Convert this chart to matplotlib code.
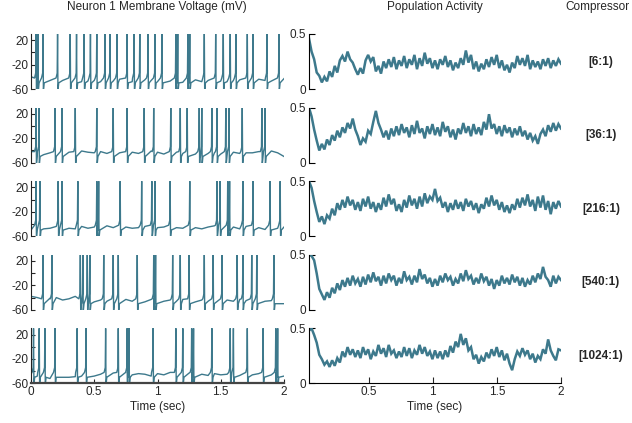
import numpy as np
import matplotlib
matplotlib.use('Agg')
import matplotlib.pyplot as plt

plt.rcParams['font.family'] = ['Liberation Sans', 'DejaVu Sans']

# colours / labels
trace_col = '#3d798c'
txt_col = '#262626'
ratios = ['[6:1)', '[36:1)', '[216:1)', '[540:1)', '[1024:1)']

# spike times (sec) of neuron 1, one list per compression row
spikes = [
    [0.04, 0.055, 0.095, 0.21, 0.31, 0.36, 0.42, 0.47, 0.52, 0.585, 0.625, 0.68, 0.76, 0.815,
     0.86, 0.925, 0.98, 1.035, 1.145, 1.16, 1.24, 1.255, 1.37, 1.46, 1.52, 1.575, 1.62, 1.71,
     1.755, 1.865, 1.96],
    [0.04, 0.063, 0.19, 0.245, 0.35, 0.52, 0.65, 0.76, 0.895, 0.97, 1.105, 1.18, 1.235, 1.33,
     1.35, 1.43, 1.47, 1.54, 1.565, 1.67, 1.825, 1.85],
    [0.04, 0.07, 0.215, 0.245, 0.37, 0.52, 0.535, 0.705, 0.875, 0.955, 0.98, 1.1, 1.255, 1.47,
     1.495, 1.555, 1.57, 1.675, 1.755, 1.89, 1.97],
    [0.095, 0.165, 0.39, 0.41, 0.445, 0.465, 0.575, 0.65, 0.69, 0.84, 0.97, 0.985, 1.12, 1.18,
     1.25, 1.37, 1.44, 1.51, 1.63, 1.675, 1.745, 1.785, 1.92],
    [0.02, 0.065, 0.11, 0.19, 0.365, 0.435, 0.59, 0.69, 0.76, 0.775, 0.965, 1.145, 1.2, 1.27,
     1.285, 1.43, 1.575, 1.6, 1.71, 1.835, 1.935, 1.95],
]

# sub-threshold voltage (mV), sampled every 0.05 s from 0 to 2 s
subthresh = [
    [-40, -44, -47, -46, -48, -46, -47, -45, -48, -47, -46, -48, -45, -47, -44, -46, -48, -47, -45, -46, -48,
     -44, -47, -46, -49, -47, -45, -48, -46, -44, -47, -48, -46, -45, -47, -48, -44, -46, -47, -45, -43],
    [-42, -46, -47, -44, -42, -40, -43, -45, -41, -43, -44, -42, -45, -43, -44, -42, -43, -45, -44, -41, -43,
     -46, -44, -43, -45, -44, -46, -43, -45, -44, -46, -42, -43, -45, -44, -44, -42, -43, -41, -44, -50],
    [-50, -47, -48, -47, -44, -46, -47, -48, -44, -47, -45, -48, -43, -46, -48, -45, -47, -46, -44, -47, -46,
     -45, -48, -46, -47, -44, -46, -48, -45, -43, -47, -46, -45, -48, -44, -47, -46, -49, -48, -47, -45],
    [-38, -40, -37, -41, -40, -44, -42, -38, -44, -45, -47, -44, -46, -41, -45, -43, -46, -44, -47, -43, -45,
     -46, -44, -46, -43, -45, -47, -44, -46, -45, -48, -44, -46, -43, -45, -47, -44, -46, -45, -50, -50],
    [-45, -48, -53, -52, -51, -50, -50, -49, -48, -47, -48, -45, -46, -43, -47, -45, -46, -44, -45, -48, -44,
     -46, -42, -41, -44, -43, -46, -45, -47, -44, -46, -45, -48, -47, -45, -46, -44, -47, -46, -50, -48],
]

# spike shape levels (mV)
v_thresh, v_peak, v_trough, v_ahp = -38, 30, -63, -50

# population activity, sampled every 0.02 s from 0.035 to 2 s
pop = [
    [0.46, 0.34, 0.27, 0.15, 0.12, 0.06, 0.11, 0.07, 0.16, 0.11,
     0.21, 0.15, 0.26, 0.30, 0.25, 0.34, 0.27, 0.24, 0.18, 0.13,
     0.19, 0.14, 0.26, 0.31, 0.25, 0.29, 0.16, 0.21, 0.14, 0.25,
     0.19, 0.27, 0.20, 0.29, 0.18, 0.26, 0.21, 0.30, 0.19, 0.27,
     0.22, 0.31, 0.18, 0.28, 0.21, 0.33, 0.23, 0.28, 0.19, 0.26,
     0.18, 0.27, 0.22, 0.30, 0.20, 0.26, 0.17, 0.24, 0.19, 0.28,
     0.22, 0.35, 0.24, 0.31, 0.18, 0.25, 0.16, 0.23, 0.18, 0.27,
     0.20, 0.29, 0.22, 0.31, 0.19, 0.26, 0.17, 0.22, 0.15, 0.24,
     0.19, 0.30, 0.22, 0.28, 0.21, 0.31, 0.18, 0.26, 0.20, 0.25,
     0.18, 0.27, 0.21, 0.28, 0.19, 0.26, 0.21, 0.27, 0.23],
    [0.50, 0.42, 0.30, 0.20, 0.11, 0.17, 0.12, 0.21, 0.16, 0.25,
     0.20, 0.29, 0.23, 0.32, 0.27, 0.36, 0.31, 0.40, 0.30, 0.24,
     0.16, 0.22, 0.19, 0.29, 0.26, 0.37, 0.47, 0.36, 0.30, 0.23,
     0.29, 0.21, 0.31, 0.24, 0.33, 0.25, 0.35, 0.27, 0.32, 0.23,
     0.34, 0.26, 0.38, 0.27, 0.31, 0.22, 0.33, 0.26, 0.35, 0.25,
     0.32, 0.24, 0.37, 0.28, 0.33, 0.23, 0.30, 0.21, 0.31, 0.26,
     0.36, 0.27, 0.33, 0.24, 0.35, 0.26, 0.32, 0.25, 0.37, 0.30,
     0.44, 0.31, 0.35, 0.26, 0.33, 0.24, 0.34, 0.27, 0.32, 0.23,
     0.31, 0.25, 0.33, 0.24, 0.29, 0.21, 0.27, 0.20, 0.24, 0.17,
     0.26, 0.30, 0.24, 0.34, 0.28, 0.36, 0.29, 0.35, 0.31],
    [0.50, 0.44, 0.32, 0.22, 0.13, 0.18, 0.11, 0.19, 0.16, 0.25,
     0.19, 0.30, 0.24, 0.33, 0.26, 0.36, 0.28, 0.33, 0.24, 0.31,
     0.23, 0.34, 0.27, 0.36, 0.25, 0.31, 0.22, 0.30, 0.24, 0.35,
     0.27, 0.38, 0.29, 0.34, 0.23, 0.29, 0.22, 0.33, 0.26, 0.37,
     0.28, 0.34, 0.25, 0.36, 0.27, 0.39, 0.30, 0.36, 0.33, 0.43,
     0.32, 0.35, 0.26, 0.31, 0.22, 0.30, 0.24, 0.33, 0.25, 0.31,
     0.23, 0.34, 0.27, 0.32, 0.24, 0.30, 0.21, 0.29, 0.25, 0.35,
     0.27, 0.37, 0.28, 0.33, 0.24, 0.31, 0.22, 0.28, 0.21, 0.29,
     0.24, 0.34, 0.26, 0.35, 0.28, 0.38, 0.27, 0.33, 0.23, 0.36,
     0.26, 0.37, 0.24, 0.32, 0.20, 0.31, 0.25, 0.32, 0.27],
    [0.50, 0.49, 0.45, 0.33, 0.19, 0.14, 0.09, 0.16, 0.11, 0.20,
     0.15, 0.24, 0.18, 0.27, 0.21, 0.29, 0.22, 0.31, 0.24, 0.28,
     0.21, 0.30, 0.23, 0.32, 0.25, 0.34, 0.26, 0.30, 0.22, 0.31,
     0.24, 0.33, 0.27, 0.31, 0.22, 0.29, 0.24, 0.35, 0.27, 0.30,
     0.23, 0.31, 0.25, 0.37, 0.28, 0.32, 0.24, 0.29, 0.21, 0.28,
     0.22, 0.31, 0.25, 0.33, 0.27, 0.30, 0.22, 0.28, 0.24, 0.33,
     0.26, 0.36, 0.28, 0.31, 0.23, 0.29, 0.24, 0.33, 0.26, 0.30,
     0.22, 0.28, 0.19, 0.27, 0.22, 0.31, 0.24, 0.29, 0.23, 0.32,
     0.25, 0.30, 0.22, 0.29, 0.21, 0.27, 0.23, 0.31, 0.25, 0.33,
     0.28, 0.39, 0.30, 0.27, 0.21, 0.31, 0.24, 0.30, 0.27],
    [0.48, 0.50, 0.44, 0.37, 0.26, 0.22, 0.17, 0.20, 0.15, 0.21,
     0.16, 0.23, 0.19, 0.29, 0.24, 0.33, 0.26, 0.31, 0.24, 0.30,
     0.23, 0.33, 0.26, 0.31, 0.22, 0.29, 0.25, 0.35, 0.27, 0.32,
     0.24, 0.35, 0.27, 0.30, 0.23, 0.29, 0.24, 0.33, 0.25, 0.32,
     0.23, 0.30, 0.26, 0.35, 0.27, 0.33, 0.25, 0.29, 0.22, 0.30,
     0.23, 0.29, 0.22, 0.30, 0.24, 0.34, 0.28, 0.38, 0.33, 0.45,
     0.35, 0.41, 0.30, 0.33, 0.22, 0.26, 0.18, 0.24, 0.20, 0.28,
     0.23, 0.31, 0.25, 0.33, 0.24, 0.30, 0.21, 0.27, 0.18, 0.12,
     0.22, 0.29, 0.25, 0.32, 0.26, 0.30, 0.22, 0.27, 0.19, 0.25,
     0.22, 0.31, 0.27, 0.40, 0.30, 0.25, 0.21, 0.31, 0.30],
]


def neuron_trace(sp, sub):
    ts = np.linspace(0, 2, len(sub))
    pts = [(t, v) for t, v in zip(ts, sub)
           if not any(s - 0.012 < t < s + 0.02 for s in sp)]
    for s in sp:
        pts += [(s - 0.012, v_thresh - 4), (s - 0.003, v_thresh + 4), (s, v_peak),
                (s + 0.003, v_trough), (s + 0.009, v_ahp)]
    pts.sort()
    arr = np.array(pts)
    return arr[:, 0], arr[:, 1]


W, H = 632, 423
fig = plt.figure(figsize=(W / 100, H / 100), dpi=100)


def px_axes(x0, x1, top, bot):
    return fig.add_axes([x0 / W, 1 - bot / H, (x1 - x0) / W, (bot - top) / H])


fs = 8.5
for i in range(5):
    bot = 89 + 73.6 * i
    top = bot - 55
    last = i == 4

    # membrane voltage
    ax = px_axes(31, 284, top, bot)
    t, v = neuron_trace(spikes[i], subthresh[i])
    ax.plot(t, v, color=trace_col, lw=1.0)
    ax.set_xlim(0, 2)
    ax.set_ylim(-60, 30)
    ax.set_yticks([-60, -40, -20, 0, 20])
    ax.set_yticklabels(['-60', '', '-20', '', '20'])
    ax.spines[['top', 'right']].set_visible(False)
    ax.spines['left'].set_color('#222222')
    ax.tick_params(direction='in', length=3, labelsize=fs, colors=txt_col, pad=2)
    if last:
        ax.spines['bottom'].set_color('#444444')
        ax.spines['bottom'].set_linewidth(1.6)
        ax.set_xticks([0, 0.5, 1, 1.5, 2])
        ax.set_xticklabels(['0', '0.5', '1', '1.5', '2'])
        ax.set_xlabel('Time (sec)', fontsize=fs, color=txt_col, labelpad=2)
    else:
        ax.spines['bottom'].set_visible(False)
        ax.set_xticks([])

    # population activity
    ax2 = px_axes(309, 561, top, bot)
    tp = np.linspace(0.035, 2, len(pop[i]))
    ax2.plot(tp, pop[i], color=trace_col, lw=1.8, solid_joinstyle='miter')
    ax2.set_xlim(0.035, 2)
    ax2.set_ylim(0, 0.5)
    ax2.set_yticks([0, 0.5])
    ax2.set_yticklabels(['0', '0.5'])
    ax2.spines[['top', 'right']].set_visible(False)
    ax2.spines['left'].set_color('black')
    ax2.tick_params(direction='in', length=4, labelsize=fs, colors=txt_col, pad=2)
    ax2.tick_params(axis='y', colors='black', labelcolor=txt_col)
    if last:
        ax2.set_xticks([0.5, 1, 1.5, 2])
        ax2.set_xticklabels(['0.5', '1', '1.5', '2'])
        ax2.set_xlabel('Time (sec)', fontsize=fs, color=txt_col, labelpad=2)
    else:
        ax2.spines['bottom'].set_visible(False)
        ax2.set_xticks([])

    fig.text(601 / W, 1 - (top + bot) / 2 / H, ratios[i], ha='center', va='center',
             fontsize=fs, fontweight='bold', color=txt_col)

fig.text(157 / W, 1 - 7 / H, 'Neuron 1 Membrane Voltage (mV)', ha='center', va='center',
         fontsize=fs, color=txt_col)
fig.text(435 / W, 1 - 7 / H, 'Population Activity', ha='center', va='center',
         fontsize=fs, color=txt_col)
fig.text(630 / W, 1 - 7 / H, 'Compressor', ha='right', va='center',
         fontsize=fs, color=txt_col)

fig.savefig('out.png', dpi=100)
